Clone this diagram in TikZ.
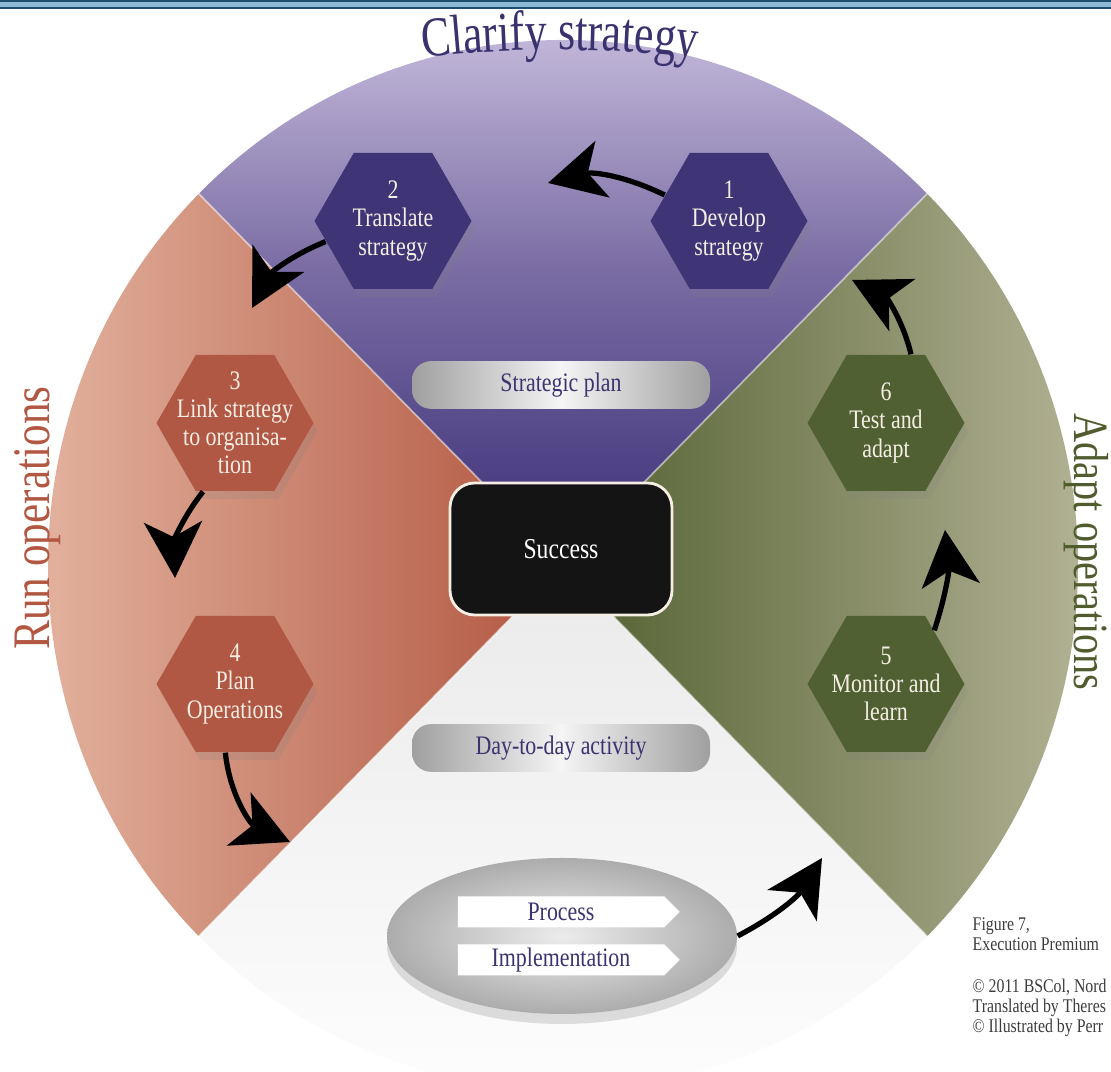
\documentclass[tikz,border=0pt]{standalone}
\usepackage{fontspec}
\setmainfont[FakeStretch=0.82]{Liberation Serif}
\newfontfamily\clarifyfont[FakeStretch=0.78]{Liberation Serif}
\usetikzlibrary{shapes.geometric,shapes.symbols,shadows,arrows.meta,decorations.text}

\definecolor{purpletop}{RGB}{208,198,228}
\definecolor{purplemid}{RGB}{120,106,162}
\definecolor{purplebot}{RGB}{58,46,118}
\definecolor{redleft}{RGB}{230,185,165}
\definecolor{redright}{RGB}{178,86,64}
\definecolor{greenleft}{RGB}{82,96,48}
\definecolor{greenright}{RGB}{186,184,156}
\definecolor{sectorgray}{RGB}{234,234,234}
\definecolor{hexpurple}{RGB}{62,52,118}
\definecolor{hexred}{RGB}{176,88,68}
\definecolor{hexgreen}{RGB}{80,96,50}
\definecolor{inktext}{RGB}{60,52,112}
\definecolor{cream}{RGB}{245,238,228}
\definecolor{successfill}{RGB}{20,20,20}
\definecolor{clarifyc}{RGB}{58,50,110}
\definecolor{runred}{RGB}{178,88,66}
\definecolor{adaptgreen}{RGB}{80,92,45}
\definecolor{notegray}{RGB}{60,60,60}
\definecolor{topline}{RGB}{30,78,110}
\definecolor{topband}{RGB}{140,186,212}

\begin{document}
\begin{tikzpicture}[
    font=\fontsize{7.6}{8}\selectfont,
    hex/.style={regular polygon, regular polygon sides=6, minimum size=1.57cm, inner sep=0pt, drop shadow={opacity=0.18, shadow xshift=0.4mm, shadow yshift=-0.8mm}},
    hextext/.style={align=center, text=cream, inner sep=0pt},
    pill/.style={rectangle, rounded corners=0.19cm, minimum width=2.98cm, minimum height=0.39cm, left color=gray!75, right color=gray!75, middle color=gray!8, text=inktext},
    successbox/.style={rectangle, rounded corners=7pt, fill=successfill, draw=cream, line width=0.8pt, minimum width=2.22cm, minimum height=1.32cm, text=white, font=\fontsize{8.2}{9}\selectfont},
    disc/.style={ellipse, minimum width=3.5cm, minimum height=1.56cm, inner color=gray!15, outer color=gray!65, drop shadow={opacity=0.25, shadow xshift=0mm, shadow yshift=-1mm}},
    banner/.style={signal, signal to=east, signal pointer angle=90, fill=white, minimum width=2.22cm, minimum height=0.31cm, inner sep=0pt, text=inktext},
    sidetitle/.style={inner sep=0pt, font=\fontsize{15}{15}\selectfont},
    note/.style={align=left, text=notegray, inner sep=0pt, font=\fontsize{5.5}{5.8}\selectfont},
    arrow/.style={-{Stealth[length=5.6mm, width=5.8mm, inset=1.5mm]}, line width=1.5pt, black}
]
\useasboundingbox (0,0) rectangle (11.11,10.72);
\clip (0,0) rectangle (11.11,10.72);

% Quadrants
\coordinate (C) at (5.63,5.07);
\shade[top color=purpletop, bottom color=purplebot, middle color=purplemid] (C) -- ++(135:5.15cm and 5.25cm) arc[start angle=135, end angle=45, x radius=5.15cm, y radius=5.25cm] -- cycle;
\shade[left color=redleft, right color=redright] (C) -- ++(135:5.15cm and 5.25cm) arc[start angle=135, end angle=225, x radius=5.15cm, y radius=5.25cm] -- cycle;
\shade[top color=sectorgray, bottom color=white] (C) -- ++(225:5.15cm and 5.25cm) arc[start angle=225, end angle=315, x radius=5.15cm, y radius=5.25cm] -- cycle;
\shade[left color=greenleft, right color=greenright] (C) -- ++(-45:5.15cm and 5.25cm) arc[start angle=-45, end angle=45, x radius=5.15cm, y radius=5.25cm] -- cycle;
\draw[white, opacity=0.5, line width=0.5pt] (C) -- ++(45:5.15cm and 5.25cm) (C) -- ++(135:5.15cm and 5.25cm) (C) -- ++(225:5.15cm and 5.25cm) (C) -- ++(-45:5.15cm and 5.25cm);

% Top rule
\fill[topline] (0,10.63) rectangle (11.11,10.72);
\fill[topband] (0,10.645) rectangle (11.11,10.70);

% Titles
\path[decorate, decoration={text along path, text align=center, text color=clarifyc, text={|\clarifyfont\fontsize{16}{16}\selectfont|Clarify strategy}}] (3.95,10.10) .. controls (4.9,10.26) and (6.3,10.26) .. (7.25,10.10);
\node[sidetitle, text=runred, rotate=90] (run) at (0.38,5.54) {Run operations};
\node[sidetitle, text=adaptgreen, rotate=-90, font=\fontsize{14}{14}\selectfont] (adapt) at (10.86,5.20) {Adapt operations};

% Hexagons
\node[hex, fill=hexpurple] (h1) at (7.29,8.51) {};
\node[hex, fill=hexpurple, node distance=3.36cm, left of=h1] (h2) {};
\node[hex, fill=hexred] (h3) at (2.35,6.49) {};
\node[hex, fill=hexred, node distance=2.61cm, below of=h3] (h4) {};
\node[hex, fill=hexgreen] (h6) at (8.86,6.49) {};
\node[hex, fill=hexgreen, node distance=2.61cm, below of=h6] (h5) {};
\node[hextext] (h1t) at (h1) {1\\Develop\\strategy};
\node[hextext] (h2t) at (h2) {2\\Translate\\strategy};
\node[hextext] (h3t) at (h3) {3\\Link strategy\\to organisa-\\tion};
\node[hextext] (h4t) at (h4) {4\\Plan\\Operations};
\node[hextext] (h5t) at (h5) {5\\Monitor and\\learn};
\node[hextext] (h6t) at (h6) {6\\Test and\\adapt};

% Centre
\node[pill] (plan) at (5.61,6.87) {Strategic plan};
\node[successbox] (succ) at (5.61,5.23) {Success};
\node[pill] (daily) at (5.61,3.24) {Day-to-day activity};
\node[disc] (proc) at (5.62,1.36) {};
\node[banner] (process) at (5.61,1.60) {Process};
\node[banner] (impl) at (5.61,1.12) {Implementation};

% Notes
\node[note, anchor=north west] (fig) at (9.72,1.55) {Figure 7,\\Execution Premium};
\node[note, anchor=north west] (copy) at (9.72,0.94) {© 2011 BSCol, Nord\\Translated by Theres\\© Illustrated by Perr};

% Arrows
\coordinate (t1) at (5.48,8.89);
\coordinate (t2) at (2.52,7.64);
\coordinate (t3) at (1.75,4.94);
\coordinate (t4) at (2.90,2.30);
\coordinate (t5) at (8.22,2.14);
\coordinate (t6) at (9.45,5.42);
\coordinate (t7) at (8.52,7.92);
\draw[arrow] (h1.158) to[bend right=20] (t1);
\draw[arrow] (h2.197) to[bend right=20] (t2);
\draw[arrow] (h3.245) to[bend right=20] (t3);
\draw[arrow] (h4.262) to[bend right=30] (t4);
\draw[arrow] (proc.east) to[bend right=15] (t5);
\draw[arrow] (h5.48) to[bend right=12] (t6);
\draw[arrow] (h6.70) to[bend right=25] (t7);

\end{tikzpicture}
\end{document}
